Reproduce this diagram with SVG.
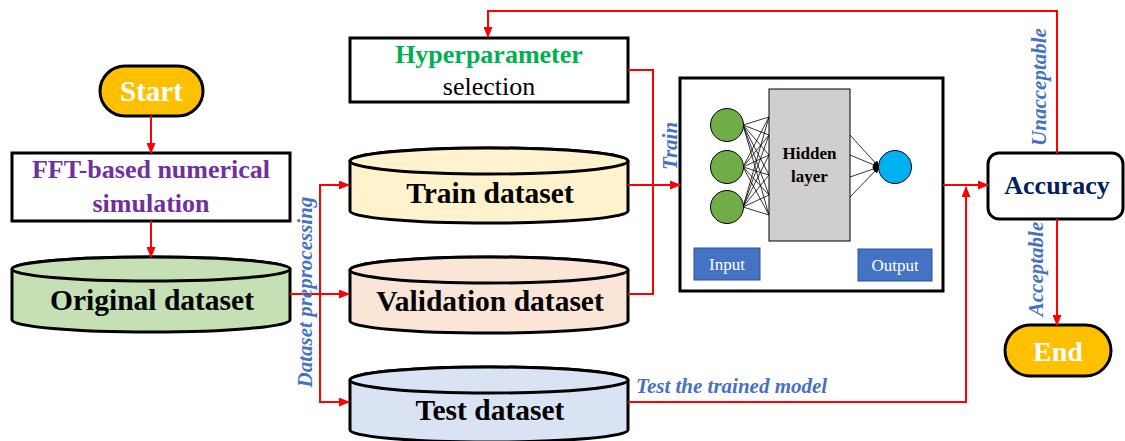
<svg xmlns="http://www.w3.org/2000/svg" width="1125" height="441" viewBox="0 0 1125 441">
<style>
.shape{stroke:#000;stroke-width:3}
.bold{font-family:"Liberation Serif",serif;font-weight:bold}
.lbl{font-family:"Liberation Serif",serif;font-weight:bold;font-style:italic;font-size:21px;fill:#4472C4}
.red{fill:none;stroke:#FF0000;stroke-width:2}
.nn{stroke:#000;stroke-width:0.8}
</style>
<defs>
<marker id="ar" markerUnits="userSpaceOnUse" markerWidth="11" markerHeight="9" refX="10" refY="4.5" orient="auto"><path d="M0,0 L11,4.5 L0,9 z" fill="#FF0000"/></marker>
<marker id="ab" markerUnits="userSpaceOnUse" markerWidth="7" markerHeight="6" refX="6" refY="3" orient="auto"><path d="M0,0 L7,3 L0,6 z" fill="#000"/></marker>
</defs>
<rect width="1125" height="441" fill="#fff"/>
<g id="start">
<rect class="shape" x="100" y="66" width="103" height="50" rx="25" fill="#FFC000"/>
<text class="bold" x="151.5" y="101" font-size="29" fill="#fff" text-anchor="middle">Start</text>
</g>
<g id="fft">
<rect class="shape" x="12" y="153" width="278" height="68" fill="#fff"/>
<text class="bold" x="151" y="178" font-size="26" fill="#7030A0" text-anchor="middle">FFT-based numerical</text>
<text class="bold" x="151" y="212" font-size="26" fill="#7030A0" text-anchor="middle">simulation</text>
</g>
<g id="original">
<path class="shape" d="M12,269 A139,12 0 0 1 290,269 L290,320 A139,12 0 0 1 12,320 Z" fill="#C5E0B4"/>
<ellipse class="shape" cx="151" cy="269" rx="139" ry="12" fill="#C5E0B4"/>
<text class="bold" x="152" y="310" font-size="29.5" fill="#000" text-anchor="middle">Original dataset</text>
</g>
<g id="hyper">
<rect class="shape" x="350" y="38" width="278" height="64" fill="#fff"/>
<text class="bold" x="489" y="63" font-size="26" fill="#00B050" text-anchor="middle">Hyperparameter</text>
<text x="489" y="95" font-family="Liberation Serif,serif" font-size="26" fill="#000" text-anchor="middle">selection</text>
</g>
<g id="train">
<path class="shape" d="M350,161 A139,13 0 0 1 628,161 L628,211 A139,12 0 0 1 350,211 Z" fill="#FFF2CC"/>
<ellipse class="shape" cx="489" cy="161" rx="139" ry="13" fill="#FFF2CC"/>
<text class="bold" x="490" y="203" font-size="29.5" fill="#000" text-anchor="middle">Train dataset</text>
</g>
<g id="validation">
<path class="shape" d="M350,270 A139,13 0 0 1 628,270 L628,321 A139,12 0 0 1 350,321 Z" fill="#FBE5D6"/>
<ellipse class="shape" cx="489" cy="270" rx="139" ry="13" fill="#FBE5D6"/>
<text class="bold" x="490" y="311" font-size="29.5" fill="#000" text-anchor="middle">Validation dataset</text>
</g>
<g id="test">
<path class="shape" d="M350,380 A139,13 0 0 1 628,380 L628,430 A139,12 0 0 1 350,430 Z" fill="#DAE3F3"/>
<ellipse class="shape" cx="489" cy="380" rx="139" ry="13" fill="#DAE3F3"/>
<text class="bold" x="490" y="420" font-size="29.5" fill="#000" text-anchor="middle">Test dataset</text>
</g>
<g id="nn">
<rect class="shape" x="680" y="78" width="263" height="213" fill="#fff"/>
<g class="nn">
<path d="M743,125 L769,117 M743,125 L769,135 M743,125 L769,155 M743,125 L769,175 M743,125 L769,195 M743,125 L769,215
M743,167 L769,117 M743,167 L769,135 M743,167 L769,155 M743,167 L769,175 M743,167 L769,195 M743,167 L769,215
M743,207 L769,117 M743,207 L769,135 M743,207 L769,155 M743,207 L769,175 M743,207 L769,195 M743,207 L769,215"/>
<line x1="850" y1="135" x2="879" y2="167" marker-end="url(#ab)"/>
<line x1="850" y1="155" x2="879" y2="167" marker-end="url(#ab)"/>
<line x1="850" y1="177" x2="879" y2="167" marker-end="url(#ab)"/>
<line x1="850" y1="197" x2="879" y2="167" marker-end="url(#ab)"/>
</g>
<circle cx="727" cy="125" r="16.5" fill="#70AD47" stroke="#000" stroke-width="1"/>
<circle cx="727" cy="167" r="16.5" fill="#70AD47" stroke="#000" stroke-width="1"/>
<circle cx="727" cy="207" r="16.5" fill="#70AD47" stroke="#000" stroke-width="1"/>
<circle cx="895" cy="167" r="16.5" fill="#00B0F0" stroke="#000" stroke-width="1"/>
<rect x="769" y="89" width="81" height="152" fill="#D0CECE" stroke="#000" stroke-width="1"/>
<text class="bold" x="809.5" y="159" font-size="17" fill="#000" text-anchor="middle">Hidden</text>
<text class="bold" x="809.5" y="182" font-size="17" fill="#000" text-anchor="middle">layer</text>
<rect x="694" y="248" width="66" height="32" fill="#4472C4" stroke="#2F528F" stroke-width="1"/>
<text x="727" y="270" font-family="Liberation Serif,serif" font-size="17" fill="#fff" text-anchor="middle">Input</text>
<rect x="858" y="249" width="74" height="32" fill="#4472C4" stroke="#2F528F" stroke-width="1"/>
<text x="895" y="271" font-family="Liberation Serif,serif" font-size="17" fill="#fff" text-anchor="middle">Output</text>
</g>
<g id="accuracy">
<rect class="shape" x="988" y="153" width="135" height="66" rx="11" fill="#fff"/>
<text class="bold" x="1057" y="194" font-size="26" fill="#002060" text-anchor="middle">Accuracy</text>
</g>
<g id="end">
<rect class="shape" x="1005" y="325" width="106" height="51" rx="25.5" fill="#FFC000"/>
<text class="bold" x="1058" y="361" font-size="28" fill="#fff" text-anchor="middle">End</text>
</g>
<g id="connectors">
<line class="red" x1="151" y1="116" x2="151" y2="153" marker-end="url(#ar)"/>
<line class="red" x1="151" y1="221" x2="151" y2="257" marker-end="url(#ar)"/>
<line class="red" x1="290" y1="294" x2="320" y2="294"/>
<line class="red" x1="320" y1="185" x2="320" y2="402"/>
<line class="red" x1="319" y1="185" x2="349" y2="185" marker-end="url(#ar)"/>
<line class="red" x1="320" y1="294" x2="349" y2="294" marker-end="url(#ar)"/>
<line class="red" x1="319" y1="402" x2="349" y2="402" marker-end="url(#ar)"/>
<line class="red" x1="628" y1="185" x2="680" y2="185" marker-end="url(#ar)"/>
<polyline class="red" points="628,294 653,294 653,70 628,70"/>
<line class="red" x1="943" y1="185" x2="988" y2="185" marker-end="url(#ar)"/>
<polyline class="red" points="628,402 966,402 966,187" marker-end="url(#ar)"/>
<polyline class="red" points="1057,153 1057,11 488,11 488,37" marker-end="url(#ar)"/>
<line class="red" x1="1057" y1="219" x2="1057" y2="325" marker-end="url(#ar)"/>
<text class="lbl" transform="translate(312,292) rotate(-90)" text-anchor="middle">Dataset preprocessing</text>
<text class="lbl" transform="translate(677,146) rotate(-90)" text-anchor="middle">Train</text>
<text class="lbl" transform="translate(1046,87) rotate(-90)" text-anchor="middle">Unacceptable</text>
<text class="lbl" transform="translate(1043,269) rotate(-90)" text-anchor="middle">Acceptable</text>
<text class="lbl" x="636" y="393">Test the trained model</text>
</g>
</svg>
